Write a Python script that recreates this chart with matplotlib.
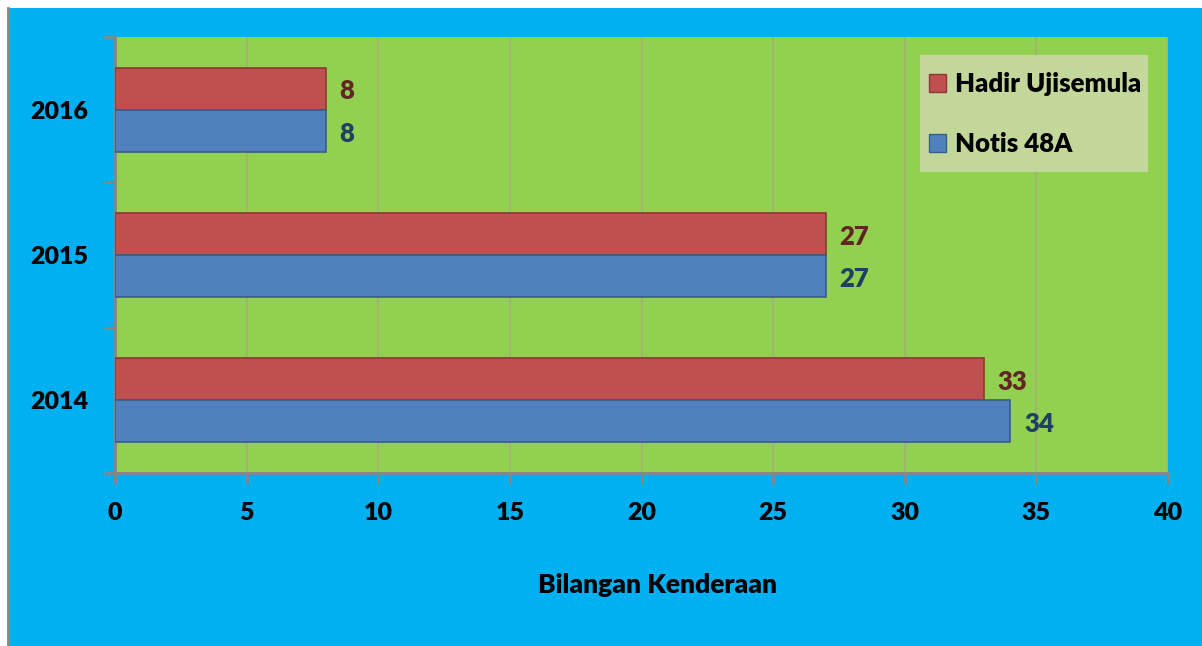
import numpy as np
import matplotlib
matplotlib.use('Agg')
from matplotlib import pyplot as plt
from matplotlib.patches import Rectangle, Patch
from matplotlib.ticker import FixedLocator

years = ['2014', '2015', '2016']
hadir = [33, 27, 8]
notis = [34, 27, 8]
series_names = ['Hadir Ujisemula', 'Notis 48A']
x_ticks = [0, 5, 10, 15, 20, 25, 30, 35, 40]

plt.rcParams['font.family'] = ['Lato', 'DejaVu Sans']
W = 'heavy'

fig = plt.figure(figsize=(12.02, 6.46), dpi=100)
fig.patch.set_facecolor('white')
# blue chart background with gray left edge
fig.add_artist(Rectangle((8 / 1202, 0), 1 - 8 / 1202, 1 - 8 / 646, transform=fig.transFigure,
                         facecolor='#00B0F0', edgecolor='none', zorder=-10))
fig.add_artist(plt.Line2D([8 / 1202, 8 / 1202], [0, 1 - 8 / 646], transform=fig.transFigure,
                          color='#868686', lw=2, zorder=-9))

ax = fig.add_axes([115 / 1202, 1 - 473 / 646, 1053 / 1202, 436 / 646])
ax.set_zorder(5)
ax.set_facecolor('#92D050')

y = np.arange(len(years))
h = 0.29
red_bars = ax.barh(y + h / 2, hadir, height=h, color='#C0504D', edgecolor='#8C3836', lw=1.2, zorder=3)
blue_bars = ax.barh(y - h / 2, notis, height=h, color='#4F81BD', edgecolor='#385D8A', lw=1.2, zorder=3)

for bars, vals, col in [(red_bars, hadir, '#632523'), (blue_bars, notis, '#1F3F66')]:
    for b, v in zip(bars, vals):
        ax.annotate(str(v), (v, b.get_y() + b.get_height() / 2), xytext=(10, -2),
                    textcoords='offset points', va='center', ha='left',
                    fontsize=18.5, fontweight=W, color=col)

ax.set_xlim(0, 40)
ax.set_ylim(-0.5, 2.5)
ax.set_xticks(x_ticks)
ax.set_xticklabels([str(t) for t in x_ticks])
ax.set_yticks(y)
ax.set_yticklabels(years)
ax.yaxis.set_minor_locator(FixedLocator([-0.5, 0.5, 1.5, 2.5]))
ax.tick_params(axis='y', which='major', length=0, pad=19, labelsize=18)
ax.tick_params(axis='y', which='minor', length=8, width=2, color='#868686', direction='out')
ax.tick_params(axis='x', length=8, width=2, color='#868686', direction='out', pad=13, labelsize=18)
for lab in ax.get_xticklabels() + ax.get_yticklabels():
    lab.set_fontweight(W)

ax.grid(axis='x', color='#A3B46C', lw=1.5, zorder=1)
ax.set_axisbelow(True)
for s in ['top', 'right']:
    ax.spines[s].set_visible(False)
for s in ['left', 'bottom']:
    ax.spines[s].set_color('#868686')
    ax.spines[s].set_linewidth(2)

ax.set_xlabel('Bilangan Kenderaan', fontsize=19, fontweight=W, va='center')
ax.xaxis.set_label_coords((657 - 115) / 1053, (473 - 585) / 436)

# legend box drawn separately so its padding can differ per direction
ax.add_patch(Rectangle(((920 - 115) / 1053, (473 - 172) / 436), 228 / 1053, 117 / 436,
                       transform=ax.transAxes, facecolor='#C4D79B', edgecolor='none', zorder=6))
handles = [Patch(facecolor='#C0504D', edgecolor='#8C3836'), Patch(facecolor='#4F81BD', edgecolor='#385D8A')]
leg = ax.legend(handles, series_names, loc='center left',
                bbox_to_anchor=((929 - 115) / 1053, (473 - 114) / 436),
                prop={'size': 18.5, 'weight': W}, frameon=False,
                handlelength=0.65, handleheight=0.65, handletextpad=0.35, labelspacing=1.4,
                borderpad=0, borderaxespad=0)
leg.set_zorder(7)

fig.savefig('out.png', dpi=100)
